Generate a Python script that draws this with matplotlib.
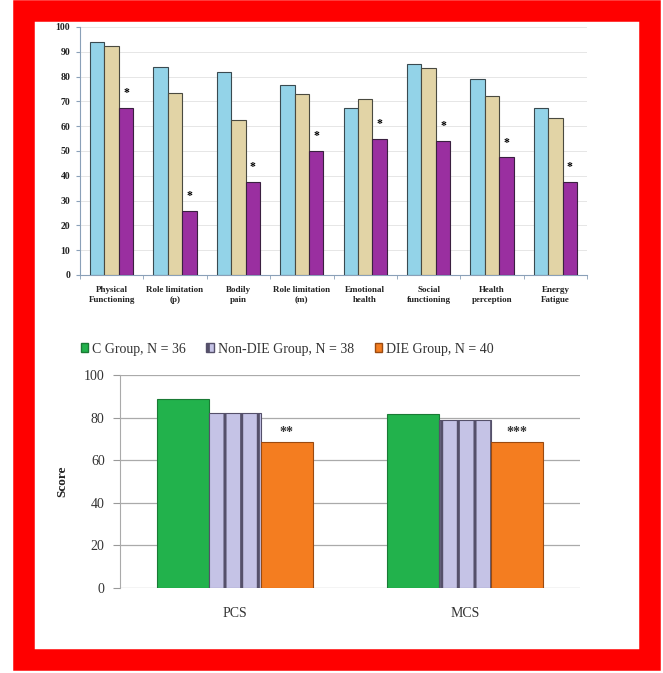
import numpy as np
import matplotlib
matplotlib.use("Agg")
import matplotlib.pyplot as plt
from matplotlib.patches import Rectangle

plt.rcParams['font.family'] = ['Liberation Serif', 'DejaVu Serif']
plt.rcParams['hatch.linewidth'] = 2.2

# ---- data: top chart (SF-36 domains) ----
domains = ["Physical\nFunctioning", "Role limitation\n(p)", "Bodily\npain",
           "Role limitation\n(m)", "Emotional\nhealth", "Social\nfunctioning",
           "Health\nperception", "Energy\nFatigue"]
c_group = [94, 84, 82, 76.5, 67.5, 85, 79, 67.5]
nondie_group = [92.5, 73.5, 62.5, 73, 71, 83.5, 72, 63.5]
die_group = [67.5, 26, 37.5, 50, 55, 54, 47.5, 37.5]
top_sig = ["*"] * 8
top_yticks = [0, 10, 20, 30, 40, 50, 60, 70, 80, 90, 100]

# ---- data: bottom chart (summary scores) ----
summary = ["PCS", "MCS"]
c_summary = [88.5, 81.5]
nondie_summary = [82, 79]
die_summary = [68.5, 68.5]
bottom_sig = ["**", "***"]
bottom_yticks = [0, 20, 40, 60, 80, 100]
legend_labels = ["C Group, N = 36", "Non-DIE Group, N = 38", "DIE Group, N = 40"]

W, H = 663, 673
fig = plt.figure(figsize=(W / 100, H / 100), dpi=100)

# red frame
fig.patches.append(Rectangle((24 / W, (H - 659.5) / H), 625.5 / W, 648.5 / H,
                             transform=fig.transFigure, fill=False,
                             edgecolor='#ff0000', linewidth=15.5, zorder=0))

# ---- top chart ----
ax1 = fig.add_axes([80 / W, (H - 275) / H, 507 / W, 248 / H])
x = np.arange(len(domains))
bw = 0.228
ax1.bar(x - bw, c_group, bw, color='#93d3e8', edgecolor='#3a4a50', linewidth=0.8, zorder=3)
ax1.bar(x, nondie_group, bw, color='#e2d4a6', edgecolor='#4a4a40', linewidth=0.8, zorder=3)
ax1.bar(x + bw, die_group, bw, color='#9a2fa0', edgecolor='#3a2040', linewidth=0.8, zorder=3)
for xi, v, s in zip(x, die_group, top_sig):
    ax1.text(xi + bw, v + 3.5, s, ha='center', va='bottom', fontsize=8.5,
             fontweight='bold', color='black', zorder=4)
ax1.set_xlim(-0.5, len(domains) - 0.5)
ax1.set_ylim(0, 100)
ax1.set_yticks(top_yticks)
ax1.set_yticklabels([str(t) for t in top_yticks], fontsize=7, fontweight='bold', color='#222')
ax1.set_xticks(x)
ax1.set_xticklabels(domains, fontsize=6.5, fontweight='bold', color='#222', linespacing=1.3)
ax1.set_xticks(np.arange(-0.5, len(domains), 1.0), minor=True)
ax1.tick_params(axis='x', which='major', length=0, pad=8)
ax1.tick_params(axis='x', which='minor', length=3, color='#8aa0b8', direction='out')
ax1.tick_params(axis='y', length=3, color='#8aa0b8', pad=4)
ax1.grid(axis='y', color='#e6e6e6', linewidth=0.7, zorder=0)
for sp in ['top', 'right']:
    ax1.spines[sp].set_visible(False)
for sp in ['left', 'bottom']:
    ax1.spines[sp].set_color('#8aa0b8')
    ax1.spines[sp].set_linewidth(0.8)

# ---- bottom chart ----
ax2 = fig.add_axes([120 / W, (H - 588) / H, 460 / W, 213 / H])
x2 = np.arange(len(summary))
bw2 = 0.225
ax2.bar(x2 - bw2, c_summary, bw2, color='#22b24c', edgecolor='#1a7a35', linewidth=0.8, zorder=3)
ax2.bar(x2, nondie_summary, bw2, color='#c5c3e6', edgecolor='#55506a', linewidth=0.8,
        hatch='|', zorder=3)
ax2.bar(x2 + bw2, die_summary, bw2, color='#f47d20', edgecolor='#9a4a10', linewidth=0.8, zorder=3)
for xi, v, s in zip(x2, die_summary, bottom_sig):
    ax2.text(xi + bw2, v + 1.5, s, ha='center', va='bottom', fontsize=10,
             fontweight='bold', color='#333', zorder=4)
ax2.set_xlim(-0.5, len(summary) - 0.5)
ax2.set_ylim(0, 100)
ax2.set_yticks(bottom_yticks)
ax2.set_yticklabels([str(t) for t in bottom_yticks], fontsize=10, color='#333')
ax2.set_xticks(x2)
ax2.set_xticklabels(summary, fontsize=10, color='#333')
ax2.tick_params(axis='x', length=0, pad=14)
ax2.tick_params(axis='y', length=5, color='#999', pad=6)
ax2.grid(axis='y', color='#aaaaaa', linewidth=0.9, zorder=0)
ax2.set_axisbelow(True)
for sp in ['top', 'right', 'bottom']:
    ax2.spines[sp].set_visible(False)
ax2.spines['left'].set_color('#aaaaaa')
ax2.set_ylabel("Score", fontsize=9.5, fontweight='bold', color='#222')
ax2.yaxis.set_label_coords(-0.113, 0.5)

handles = [Rectangle((0, 0), 1, 1, facecolor='#22b24c', edgecolor='#1a7a35'),
           Rectangle((0, 0), 1, 1, facecolor='#c5c3e6', edgecolor='#55506a', hatch='|'),
           Rectangle((0, 0), 1, 1, facecolor='#f47d20', edgecolor='#9a4a10')]
fig.legend(handles, legend_labels, loc='center', bbox_to_anchor=(287 / W, (H - 349) / H),
           ncol=3, frameon=False, fontsize=10, handlelength=0.55, handleheight=0.55,
           handletextpad=0.25, columnspacing=1.5, labelcolor='#333')

fig.savefig("out.png", dpi=100)
